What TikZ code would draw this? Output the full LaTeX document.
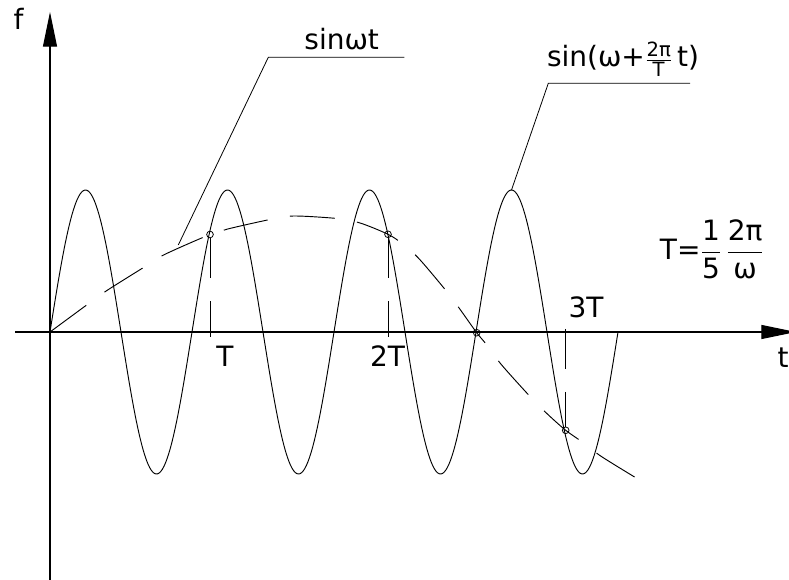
\documentclass[tikz,border=0pt]{standalone}
\usepackage{amsmath}
\usepackage{fontspec}
\setmainfont{DejaVu Sans}
\usetikzlibrary{arrows.meta,positioning}

\begin{document}
\begin{tikzpicture}[
 x=0.75pt,y=-0.75pt,
 axis/.style={line width=0.8pt,-{Triangle[length=26pt,width=10.5pt]}},
 wave/.style={line width=0.7pt},
 slow/.style={line width=0.7pt,dash pattern=on 33.75pt off 16.9pt},
 guide/.style={line width=0.7pt,dash pattern=on 30pt off 17.25pt},
 lead/.style={line width=0.6pt},
 hit/.style={circle,draw,line width=0.6pt,inner sep=0pt,minimum size=5pt},
 lbl/.style={font=\fontsize{21}{24}\selectfont,inner sep=0pt}
]
\useasboundingbox (0,0) rectangle (789,580);
% axes
\coordinate (o) at (50,332);
\coordinate (ybot) at (50,580);
\coordinate (ytop) at (50,12);
\coordinate (xleft) at (15,332);
\coordinate (xright) at (796,332);
\draw[axis] (ybot) -- (ytop);
\draw[axis] (xleft) -- (xright);
\node[lbl] (flab) at (18.5,18.5) {f};
\node[lbl] (tlab) at (783,358) {t};
% fast wave, four periods
\draw[wave] plot[domain=50:618,samples=360] (\x,{332-142*sin((\x-50)/142*360)});
\coordinate (peak4) at (511.5,190);
% slow wave
\draw[slow] plot[smooth] coordinates {(50,332) (89,303.3) (107.7,290) (146,266)
 (165,254.3) (210,234.5) (227.7,229) (271,219.3) (294.3,216) (339,218.7)
 (361,223.3) (388,234.3) (401.7,243.3) (419,258.7) (447.7,292.7) (461,310.7)
 (476.7,332.7) (487.7,346) (501.7,365) (531.7,398.3) (547.7,414.3)
 (565.7,430.3) (582.7,442.3) (601.7,456.7) (642.3,481.7)};
% crossing points
\node[hit] (h1) at (210,234.5) {};
\node[hit] (h2) at (388,234.3) {};
\node[hit] (h3) at (476.7,332.7) {};
\node[hit] (h4) at (565.7,430.3) {};
% period marks
\coordinate (tick1) at (210,337);
\coordinate (tick2) at (388,337);
\coordinate (tick3) at (565.7,329);
\draw[guide] (h1) -- (tick1);
\draw[guide] (h2) -- (tick2);
\draw[guide] (tick3) -- (h4);
\node[lbl] (T1) at (225,356) {T};
\node[lbl] (T2) at (387.5,356) {2T};
\node[lbl] (T3) at (586,307) {3T};
% leaders
\coordinate (foot1) at (178.3,245);
\coordinate (knee1) at (268.3,57.3);
\coordinate (end1) at (404.3,57.3);
\draw[lead] (foot1) -- (knee1) -- (end1);
\node[lbl,anchor=base] (sin1) at (341.7,50) {sinωt};
\coordinate (knee2) at (548.3,83.3);
\coordinate (end2) at (690,83.3);
\draw[lead] (peak4) -- (knee2) -- (end2);
\node[lbl,anchor=base] (sin2) at (623,67) {sin(ω+$\frac{\text{2π}}{\text{T}}$\,t)};
% period formula
\node[lbl] (period) at (712,249) {T=$\dfrac{\text{1}}{\text{5}}\,\dfrac{\text{2π}}{\text{ω}}$};
\end{tikzpicture}
\end{document}
